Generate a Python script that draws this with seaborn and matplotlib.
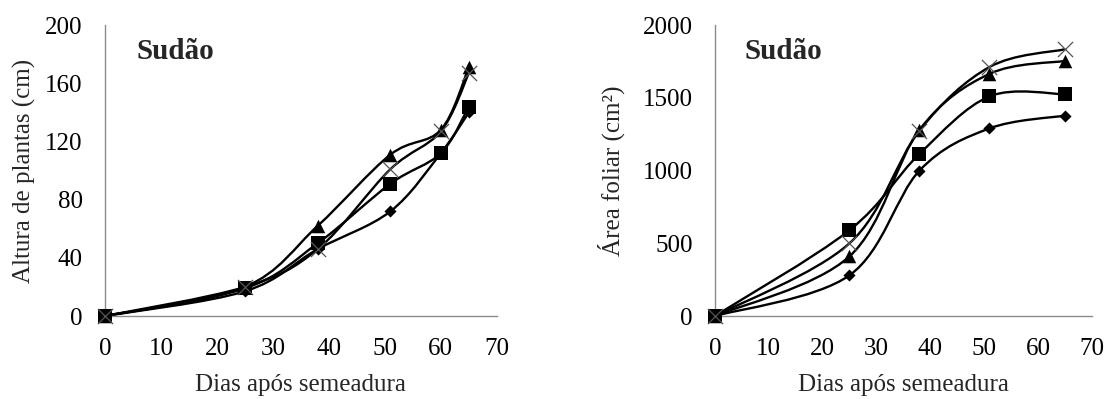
import numpy as np
import pandas as pd
import seaborn as sns
import matplotlib.pyplot as plt
from matplotlib.path import Path
from matplotlib.patches import PathPatch

# Altura de plantas (cm) - Sudão
dias_altura = [0, 25, 38, 51, 60, 65]
altura_losango = [0, 17, 46, 72, 112, 140]
altura_quadrado = [0, 19, 50, 91, 112, 144]
altura_triangulo = [0, 20, 62, 111, 128, 171]
altura_xis = [0, 20, 46, 101, 127, 167]

# Área foliar (cm²) - Sudão
dias_area = [0, 25, 38, 51, 65]
area_losango = [0, 280, 1000, 1290, 1378]
area_quadrado = [0, 590, 1115, 1510, 1525]
area_triangulo = [0, 410, 1280, 1665, 1754]
area_xis = [0, 500, 1275, 1712, 1834]

# marcadores: (nome, marker, tamanho, cor, espessura)
estilos = [
    ("losango", "D", 38, "black", 0),
    ("quadrado", "s", 110, "black", 0),
    ("triangulo", "^", 95, "black", 0),
    ("xis", "x", 120, "#555555", 0.9),
]

sns.set_style("white")
plt.rcParams["font.family"] = ["Liberation Serif", "DejaVu Serif"]

GRAY = "#8c8c8c"


def smooth_path(x, y):
    # curva suavizada tipo Excel (Bezier / Catmull-Rom) passando pelos pontos
    x = np.asarray(x, float)
    y = np.asarray(y, float)
    px = np.concatenate([[x[0]], x, [x[-1]]])
    py = np.concatenate([[y[0]], y, [y[-1]]])
    verts = [(x[0], y[0])]
    codes = [Path.MOVETO]
    for i in range(1, len(px) - 2):
        c1 = (px[i] + (px[i + 1] - px[i - 1]) / 6, py[i] + (py[i + 1] - py[i - 1]) / 6)
        c2 = (px[i + 1] - (px[i + 2] - px[i]) / 6, py[i + 1] - (py[i + 2] - py[i]) / 6)
        verts += [c1, c2, (px[i + 1], py[i + 1])]
        codes += [Path.CURVE4] * 3
    return Path(verts, codes)


def painel(ax, dias, series, ymax, ystep, ylabel, ypad):
    for (nome, mk, s, cor, lw), vals in zip(estilos, series):
        ax.add_patch(PathPatch(smooth_path(dias, vals), fill=False,
                               edgecolor="black", lw=1.7, zorder=2))
    for (nome, mk, s, cor, lw), vals in zip(estilos, series):
        df = pd.DataFrame({"dias": dias, "valor": vals})
        sns.scatterplot(data=df, x="dias", y="valor", marker=mk, s=s,
                        color=cor, linewidth=lw, ax=ax, zorder=3,
                        clip_on=False, legend=False)
    ax.set_xlim(0, 70)
    ax.set_ylim(0, ymax)
    ax.set_xticks(range(0, 71, 10))
    ax.set_yticks(np.arange(0, ymax + 1, ystep))
    for sp in ["top", "right"]:
        ax.spines[sp].set_visible(False)
    for sp in ["left", "bottom"]:
        ax.spines[sp].set_color(GRAY)
        ax.spines[sp].set_linewidth(1)
    ax.tick_params(axis="both", direction="out", length=5, width=1,
                   color=GRAY, labelsize=18, labelcolor="black")
    ax.tick_params(axis="x", pad=11)
    ax.tick_params(axis="y", pad=11)
    ax.set_xlabel("Dias após semeadura", fontsize=18, labelpad=10)
    ax.set_ylabel(ylabel, fontsize=18, labelpad=ypad)
    ax.text(0.08, 0.91, "Sudão", transform=ax.transAxes, fontsize=21,
            fontweight="bold", ha="left", va="center")


fig = plt.figure(figsize=(11.1, 3.99), dpi=100)
ax1 = fig.add_axes([0.0946, 0.208, 0.353, 0.729])
ax2 = fig.add_axes([0.644, 0.208, 0.3396, 0.729])

painel(ax1, dias_altura,
       [altura_losango, altura_quadrado, altura_triangulo, altura_xis],
       200, 40, "Altura de plantas (cm)", 7)
painel(ax2, dias_area,
       [area_losango, area_quadrado, area_triangulo, area_xis],
       2000, 500, "Área foliar (cm²)", 13)

fig.savefig("out.png", dpi=100)
